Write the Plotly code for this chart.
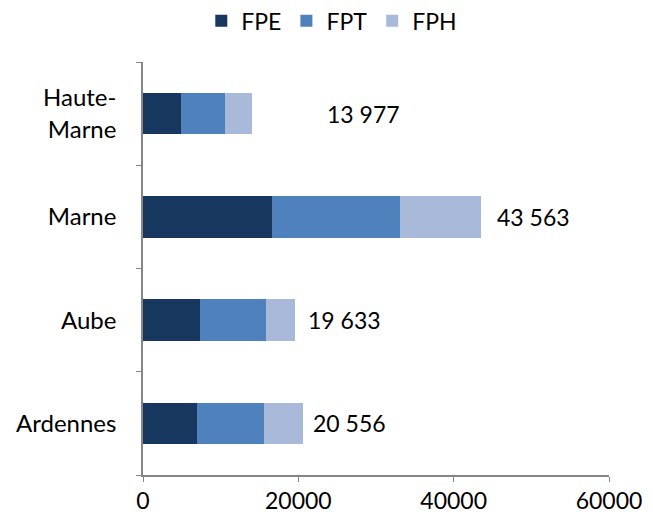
import plotly.graph_objects as go

departements = ["Ardennes", "Aube", "Marne", "Haute-<br>Marne"]
fpe = [7010, 7280, 16650, 4870]
fpt = [8610, 8510, 16400, 5720]
fph = [4936, 3843, 10513, 3387]
totaux = [20556, 19633, 43563, 13977]
decalage = [8, 11, 14, 73]

couleurs = {"FPE": "#17375E", "FPT": "#4F81BD", "FPH": "#A9B9D9"}

fig = go.Figure()
for nom, vals in [("FPE", fpe), ("FPT", fpt), ("FPH", fph)]:
    fig.add_trace(go.Bar(
        y=departements, x=vals, name=nom, orientation="h",
        marker=dict(color=couleurs[nom], line=dict(width=0)),
    ))

for dep, tot, dx in zip(departements, totaux, decalage):
    fig.add_annotation(
        x=tot, y=dep, text=f"{tot:,}".replace(",", " "),
        showarrow=False, xanchor="left", xshift=dx,
        font=dict(size=23, color="black"),
    )

# la page ajoute une marge de 8 px autour du graphique
fig.update_layout(
    barmode="stack",
    bargap=0.6,
    width=645, height=515,
    margin=dict(l=135, r=44, t=54, b=48, autoexpand=False),
    plot_bgcolor="white", paper_bgcolor="white",
    font=dict(family="Lato, Carlito, sans-serif", size=24, color="black"),
    legend=dict(orientation="h", x=0.502, xanchor="center", xref="container",
                y=1.1, yanchor="middle", yref="paper",
                font=dict(size=23), traceorder="normal"),
    showlegend=True,
)
fig.update_xaxes(range=[0, 60000], tickvals=[0, 20000, 40000, 60000],
                 showline=True, linecolor="#868686", linewidth=1.5,
                 ticks="outside", ticklen=5, tickcolor="#868686",
                 showgrid=False, zeroline=False, tickformat="d",
                 automargin=False, tickfont=dict(size=23))
fig.update_yaxes(showline=True, linecolor="#868686", linewidth=1.5,
                 ticks="outside", ticklen=5, tickcolor="#868686",
                 tickson="boundaries", showgrid=False, automargin=False,
                 ticklabelstandoff=20)

fig.write_html("out.html")
